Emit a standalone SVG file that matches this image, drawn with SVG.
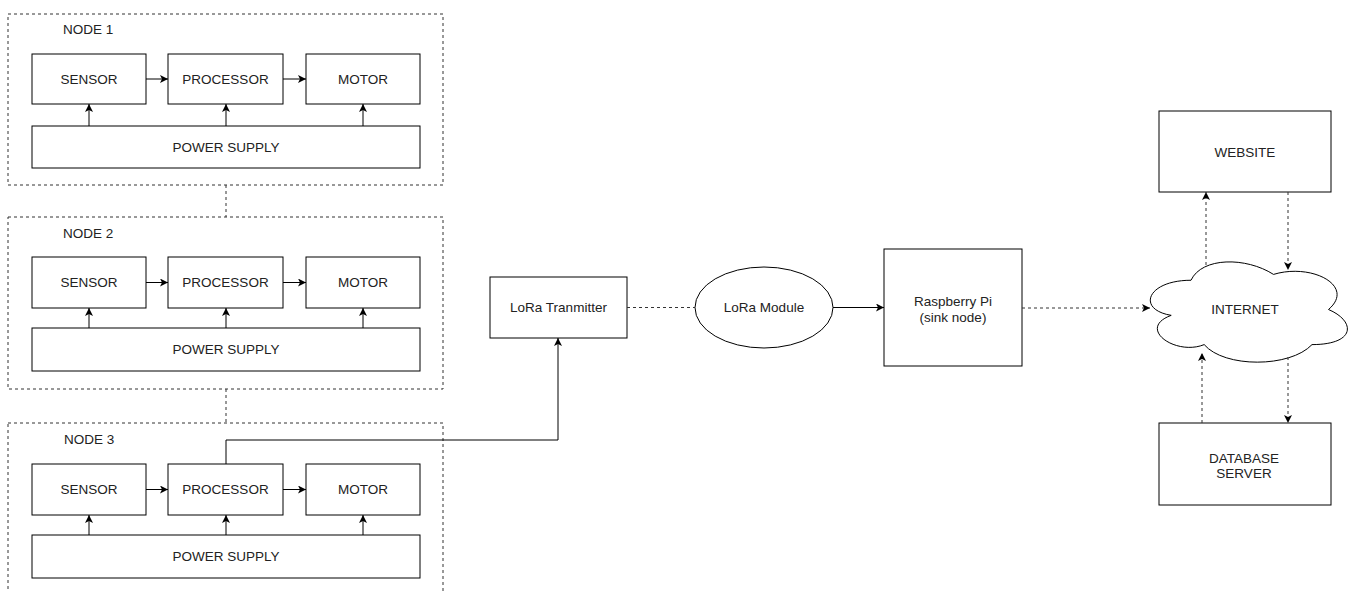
<svg xmlns="http://www.w3.org/2000/svg" width="1348" height="591" viewBox="0 0 1348 591">
<style>
  .box { fill: #fff; stroke: #000; stroke-width: 1; }
  .frame { fill: none; stroke: #333; stroke-width: 1; stroke-dasharray: 3 3; }
  .t { font-family: "Liberation Sans", Arial, sans-serif; font-size: 13.5px; fill: #222; text-anchor: middle; dominant-baseline: central; }
  .lbl { font-family: "Liberation Sans", Arial, sans-serif; font-size: 13.5px; fill: #222; dominant-baseline: central; }
  .ln { fill: none; stroke: #000; stroke-width: 1; }
  .dl { fill: none; stroke: #333; stroke-width: 1; stroke-dasharray: 3 3; }
</style>
<defs>
  <marker id="arr" markerUnits="userSpaceOnUse" markerWidth="10" markerHeight="10" refX="8" refY="4" orient="auto">
    <path d="M0,0 L8,4 L0,8 L2,4 Z" fill="#000"/>
  </marker>
</defs>
<rect width="1348" height="591" fill="#fff"/>

<g id="node1">
  <rect class="frame" x="8" y="14" width="435" height="171"/>
  <text class="lbl" x="63" y="29">NODE 1</text>
  <rect class="box" x="32" y="54" width="114" height="50"/>
  <text class="t" x="89" y="79">SENSOR</text>
  <rect class="box" x="168" y="54" width="115" height="50"/>
  <text class="t" x="225.5" y="79">PROCESSOR</text>
  <rect class="box" x="306" y="54" width="114" height="50"/>
  <text class="t" x="363" y="79">MOTOR</text>
  <rect class="box" x="32" y="126" width="388" height="42"/>
  <text class="t" x="226" y="147">POWER SUPPLY</text>
</g>

<g id="node2">
  <rect class="frame" x="8" y="217" width="435" height="172"/>
  <text class="lbl" x="63" y="233">NODE 2</text>
  <rect class="box" x="32" y="257" width="114" height="51"/>
  <text class="t" x="89" y="282.5">SENSOR</text>
  <rect class="box" x="168" y="257" width="115" height="51"/>
  <text class="t" x="225.5" y="282.5">PROCESSOR</text>
  <rect class="box" x="306" y="257" width="114" height="51"/>
  <text class="t" x="363" y="282.5">MOTOR</text>
  <rect class="box" x="32" y="328" width="388" height="43"/>
  <text class="t" x="226" y="349.5">POWER SUPPLY</text>
</g>

<g id="node3">
  <rect class="frame" x="8" y="423" width="435" height="200"/>
  <text class="lbl" x="64" y="439">NODE 3</text>
  <rect class="box" x="32" y="464" width="114" height="51"/>
  <text class="t" x="89" y="489.5">SENSOR</text>
  <rect class="box" x="168" y="464" width="115" height="51"/>
  <text class="t" x="225.5" y="489.5">PROCESSOR</text>
  <rect class="box" x="306" y="464" width="114" height="51"/>
  <text class="t" x="363" y="489.5">MOTOR</text>
  <rect class="box" x="32" y="535" width="388" height="43"/>
  <text class="t" x="226" y="556.5">POWER SUPPLY</text>
</g>

<g id="lora-transmitter">
  <rect class="box" x="490" y="277" width="137" height="61"/>
  <text class="t" x="558.5" y="307.5">LoRa Tranmitter</text>
</g>

<g id="lora-module">
  <ellipse class="box" cx="764" cy="307.5" rx="69" ry="40.5"/>
  <text class="t" x="764" y="307.5">LoRa Module</text>
</g>

<g id="raspberry-pi">
  <rect class="box" x="884" y="249" width="138" height="117"/>
  <text class="t" x="953" y="301">Raspberry Pi</text>
  <text class="t" x="953" y="317">(sink node)</text>
</g>

<g id="internet">
  <path class="box" d="M1191,280.25 C1147,280.25 1136,309.5 1171.2,315.35 C1136,328.2 1175.6,356.3 1204.2,344.6 C1224,368 1290,368 1312,344.6 C1356,344.6 1356,321.2 1328.5,309.5 C1356,286.1 1312,262.7 1273.5,274.4 C1246,256.85 1202,256.85 1191,280.25 Z"/>
  <text class="t" x="1245" y="309">INTERNET</text>
</g>

<g id="website">
  <rect class="box" x="1159" y="111" width="172" height="81"/>
  <text class="t" x="1245" y="152">WEBSITE</text>
</g>

<g id="database-server">
  <rect class="box" x="1159" y="423" width="172" height="82"/>
  <text class="t" x="1244" y="458">DATABASE</text>
  <text class="t" x="1244" y="473">SERVER</text>
</g>

<g id="connectors">
  <!-- node 1 internal -->
  <path class="ln" d="M146,79 H168" marker-end="url(#arr)"/>
  <path class="ln" d="M283,79 H306" marker-end="url(#arr)"/>
  <path class="ln" d="M89,126 V104" marker-end="url(#arr)"/>
  <path class="ln" d="M226,126 V104" marker-end="url(#arr)"/>
  <path class="ln" d="M363,126 V104" marker-end="url(#arr)"/>
  <!-- node 2 internal -->
  <path class="ln" d="M146,282.5 H168" marker-end="url(#arr)"/>
  <path class="ln" d="M283,282.5 H306" marker-end="url(#arr)"/>
  <path class="ln" d="M89,328 V308" marker-end="url(#arr)"/>
  <path class="ln" d="M226,328 V308" marker-end="url(#arr)"/>
  <path class="ln" d="M363,328 V308" marker-end="url(#arr)"/>
  <!-- node 3 internal -->
  <path class="ln" d="M146,489.5 H168" marker-end="url(#arr)"/>
  <path class="ln" d="M283,489.5 H306" marker-end="url(#arr)"/>
  <path class="ln" d="M89,535 V515" marker-end="url(#arr)"/>
  <path class="ln" d="M226,535 V515" marker-end="url(#arr)"/>
  <path class="ln" d="M363,535 V515" marker-end="url(#arr)"/>
  <!-- between nodes -->
  <path class="dl" d="M226,185 V217"/>
  <path class="dl" d="M226,389 V423"/>
  <!-- node 3 processor to LoRa transmitter -->
  <path class="ln" d="M226,464 V440 H558 V338" marker-end="url(#arr)"/>
  <!-- LoRa transmitter to module -->
  <path class="dl" d="M627,307.5 H695"/>
  <!-- module to raspberry -->
  <path class="ln" d="M833,307.5 H884" marker-end="url(#arr)"/>
  <!-- raspberry to internet -->
  <path class="dl" d="M1022,308 H1150" marker-end="url(#arr)"/>
  <!-- internet to website -->
  <path class="dl" d="M1206,265 V192" marker-end="url(#arr)"/>
  <!-- website to internet -->
  <path class="dl" d="M1288,192 V270" marker-end="url(#arr)"/>
  <!-- database to internet -->
  <path class="dl" d="M1202,423 V353" marker-end="url(#arr)"/>
  <!-- internet to database -->
  <path class="dl" d="M1288,357 V423" marker-end="url(#arr)"/>
</g>
</svg>
